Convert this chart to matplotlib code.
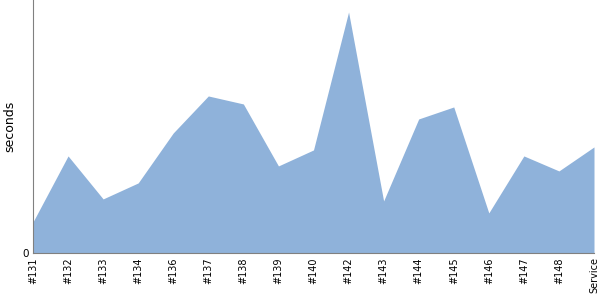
import matplotlib
matplotlib.use('Agg')
import matplotlib.pyplot as plt

# build labels and durations (seconds)
builds = ['#131', '#132', '#133', '#134', '#136', '#137', '#138', '#139', '#140',
          '#142', '#143', '#144', '#145', '#146', '#147', '#148', 'Service']
seconds = [3.1, 9.7, 5.4, 7.0, 12.0, 15.7, 14.9, 8.7, 10.3,
           24.1, 5.2, 13.4, 14.6, 4.0, 9.7, 8.2, 10.6]
y_max = 25.3

fig = plt.figure(figsize=(6, 3), dpi=100)
ax = fig.add_axes([0.055, 0.157, 0.935, 0.843])

x = list(range(len(builds)))
ax.fill_between(x, seconds, 0, color='#8fb2da', linewidth=0)

ax.set_xlim(0, len(builds) - 1)
ax.set_ylim(0, y_max)
ax.set_xticks(x)
ax.set_xticklabels(builds, rotation=90, fontsize=7)
ax.set_yticks([0])
ax.set_yticklabels(['0'], fontsize=7.5)
ax.tick_params(length=0, pad=3)
ax.set_ylabel('seconds', fontsize=9)

for side in ['top', 'right']:
    ax.spines[side].set_visible(False)
for side in ['left', 'bottom']:
    ax.spines[side].set_color('#808080')

plt.savefig('out.png')
